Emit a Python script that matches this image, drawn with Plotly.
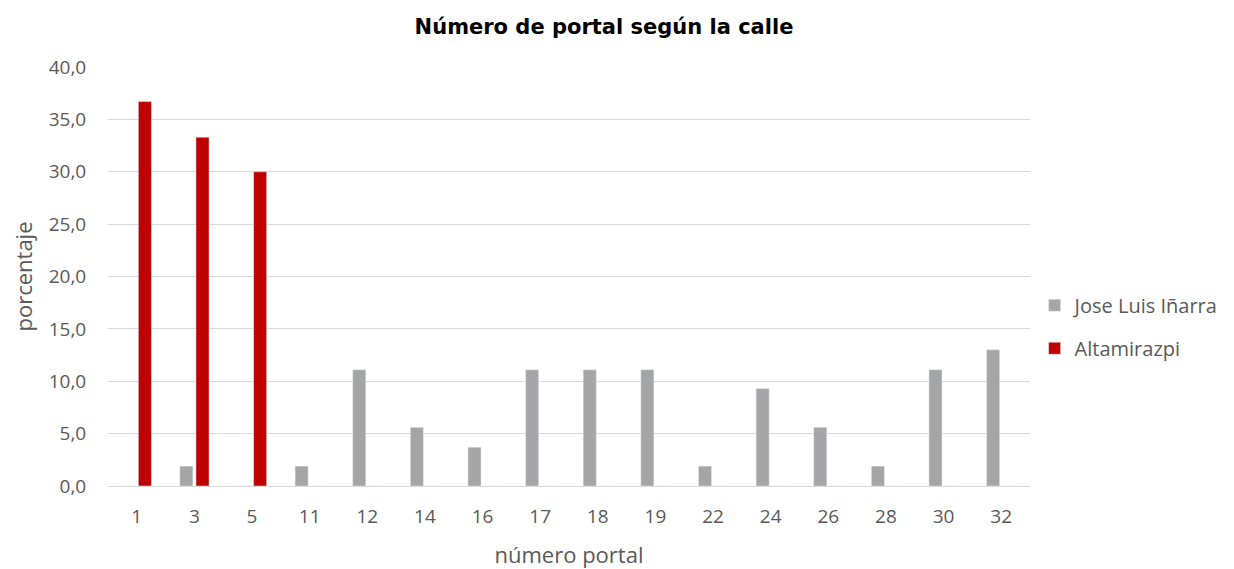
import plotly.graph_objects as go

portales = ["1", "3", "5", "11", "12", "14", "16", "17", "18", "19", "22", "24", "26", "28", "30", "32"]
jose_luis = [0, 1.9, 0, 1.9, 11.1, 5.6, 3.7, 11.1, 11.1, 11.1, 1.9, 9.3, 5.6, 1.9, 11.1, 13.0]
altamirazpi = [36.7, 33.3, 30.0, 0, 0, 0, 0, 0, 0, 0, 0, 0, 0, 0, 0, 0]

fig = go.Figure()
fig.add_trace(go.Bar(x=portales, y=jose_luis, name="Jose Luis Iñarra",
                     marker_color="#a5a5a5", legendgroup="a"))
fig.add_trace(go.Bar(x=portales, y=altamirazpi, name="Altamirazpi",
                     marker_color="#c00000", legendgroup="b"))

fig.update_layout(
    width=1234,
    height=569,
    barmode="group",
    bargap=0.44,
    bargroupgap=0.19,
    plot_bgcolor="white",
    paper_bgcolor="white",
    font=dict(family="Open Sans, Liberation Sans, sans-serif", color="#595959", size=19),
    title=dict(
        text="<b>Número de portal según la calle</b>",
        x=0.483,
        xanchor="center",
        y=0.967,
        yanchor="middle",
        font=dict(family="DejaVu Sans, Verdana", size=21, color="black"),
    ),
    margin=dict(l=100, r=212, t=59, b=91),
    legend=dict(
        x=1.005,
        xanchor="left",
        y=0.38,
        yanchor="middle",
        font=dict(size=20, color="#595959"),
        tracegroupgap=14,
    ),
    xaxis=dict(
        title=dict(text="número portal", font=dict(size=22), standoff=19),
        showline=True,
        linecolor="#d9d9d9",
        ticks="outside",
        ticklen=13,
        tickcolor="white",
        automargin=False,
    ),
    yaxis=dict(
        title=dict(text="porcentaje", font=dict(size=22), standoff=12),
        range=[0, 40],
        dtick=5,
        tickformat=".1f",
        gridcolor="#d9d9d9",
        zeroline=False,
        ticks="outside",
        ticklen=17,
        tickcolor="white",
        automargin=False,
    ),
    separators=",.",
)

fig.write_html("out.html")
